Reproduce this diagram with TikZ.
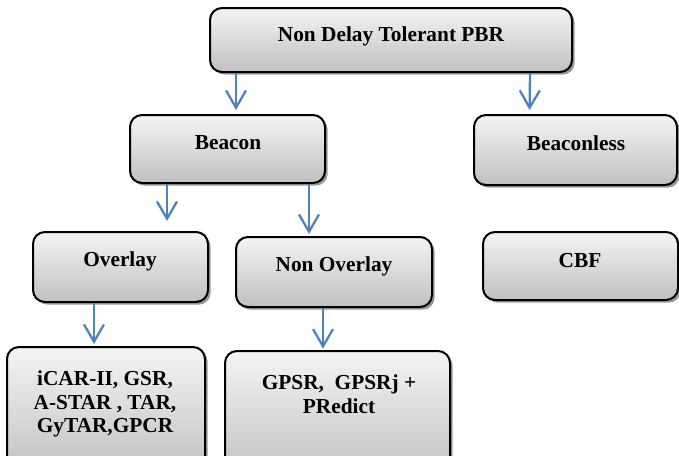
\documentclass[tikz,border=0pt]{standalone}
\usepackage{fontspec}
\setmainfont{Liberation Serif}
\usetikzlibrary{arrows.meta,shadows}
\definecolor{arrblue}{RGB}{79,129,189}
\definecolor{topgray}{RGB}{244,244,244}
\definecolor{botgray}{RGB}{192,192,192}
\tikzset{
  box/.style={draw=black, line width=1.5pt, rounded corners=9pt, top color=topgray, bottom color=botgray,
    drop shadow={shadow xshift=2pt, shadow yshift=-2pt, fill=black!50, opacity=0.8}, inner sep=0pt},
  lbl/.style={font=\fontsize{16}{17.8}\selectfont\bfseries, align=center, inner sep=0pt},
  arr/.style={draw=arrblue, line width=1.7pt, -{Straight Barb[length=13pt,width=15pt,line width=1.7pt]}}
}
\begin{document}
\begin{tikzpicture}[x=0.75pt,y=-0.75pt]
\useasboundingbox (0,0) rectangle (679,455);
\clip (0,0) rectangle (679,455);
% boxes
\node[box, minimum width=362*0.75pt, minimum height=64*0.75pt] (top) at (391,40) {};
\node[box, minimum width=195*0.75pt, minimum height=68*0.75pt] (beacon) at (227.5,149) {};
\node[box, minimum width=203*0.75pt, minimum height=70*0.75pt] (beaconless) at (575.5,150) {};
\node[box, minimum width=175*0.75pt, minimum height=70*0.75pt] (overlay) at (120.5,267) {};
\node[box, minimum width=196*0.75pt, minimum height=70*0.75pt] (nonoverlay) at (334,272) {};
\node[box, minimum width=195*0.75pt, minimum height=68*0.75pt] (cbf) at (580.5,266) {};
\node[box, minimum width=198*0.75pt, minimum height=130*0.75pt] (icar) at (106,412) {};
\node[box, minimum width=225*0.75pt, minimum height=130*0.75pt] (gpsr) at (337.5,416) {};
% labels
\node[lbl] (topt) at (391,36) {Non Delay Tolerant PBR};
\node[lbl] (beacont) at (228,143) {Beacon};
\node[lbl] (beaconlesst) at (576,143) {Beaconless};
\node[lbl] (overlayt) at (120,261) {Overlay};
\node[lbl] (nonoverlayt) at (334,266) {Non Overlay};
\node[lbl] (cbft) at (580,261) {CBF};
\node[lbl] (icart) at (105,404) {iCAR-II, GSR,\\A-STAR , TAR,\\GyTAR,GPCR};
\node[lbl] (gpsrt) at (339,394) {GPSR, \ GPSRj +\\PRedict};
% arrows
\draw[arr, shorten >=3pt] ([xshift=-116.25pt]top.south) -- ([xshift=6.375pt]beacon.north);
\draw[arr, shorten >=3pt] ([xshift=104.25pt]top.south) -- ([xshift=-34.5pt]beaconless.north);
\draw[arr, shorten >=7.5pt] ([xshift=-45.375pt]beacon.south) -- ([xshift=34.875pt]overlay.north);
\draw[arr, shorten >=1.5pt] ([xshift=61.125pt]beacon.south) -- ([xshift=-18.75pt]nonoverlay.north);
\draw[arr, shorten >=1.5pt] ([xshift=-19.875pt]overlay.south) -- ([xshift=-9pt]icar.north);
\draw[arr, shorten >=1pt] ([xshift=-8.25pt]nonoverlay.south) -- ([xshift=-10.875pt]gpsr.north);
\end{tikzpicture}
\end{document}
